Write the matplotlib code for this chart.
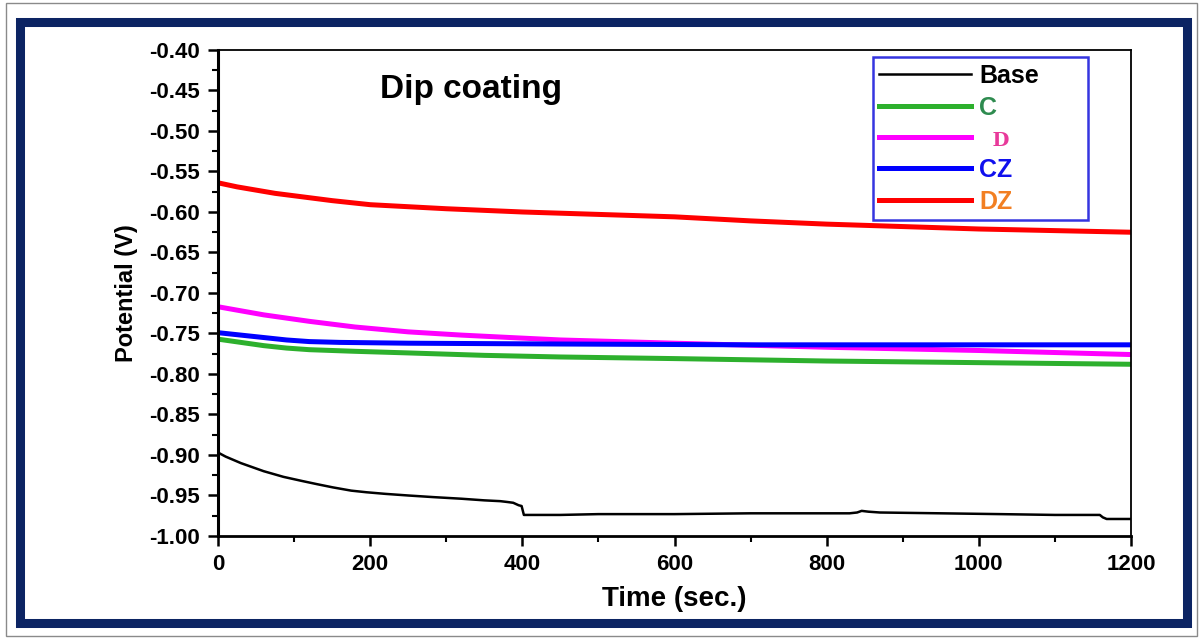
import matplotlib.pyplot as plt
from matplotlib.patches import Rectangle
from matplotlib.ticker import MultipleLocator

plt.rcParams['font.family'] = ['Liberation Sans', 'DejaVu Sans']
plt.rcParams['font.weight'] = 'bold'

# time (sec) and open circuit potential (V)
t_base = [0, 10, 20, 30, 42, 60, 86, 110, 130, 151, 175, 195, 220, 250, 283, 320, 350, 371,
          380, 388, 395, 399, 402, 450, 500, 560, 600, 700, 765, 830, 840, 846, 855, 870,
          950, 1028, 1100, 1159, 1163, 1168, 1200]
base = [-0.897, -0.902, -0.906, -0.910, -0.914, -0.920, -0.927, -0.932, -0.936, -0.940,
        -0.944, -0.946, -0.948, -0.950, -0.952, -0.954, -0.956, -0.957, -0.958, -0.959,
        -0.962, -0.963, -0.974, -0.974, -0.973, -0.973, -0.973, -0.972, -0.972, -0.972,
        -0.971, -0.969, -0.970, -0.971, -0.972, -0.973, -0.974, -0.974, -0.977, -0.979, -0.979]

t_c = [0, 30, 60, 90, 120, 180, 250, 350, 450, 600, 800, 1000, 1200]
c = [-0.757, -0.761, -0.765, -0.768, -0.770, -0.772, -0.774, -0.777, -0.779, -0.781,
     -0.784, -0.786, -0.788]

t_d = [0, 30, 60, 90, 120, 180, 250, 320, 384, 450, 600, 800, 1000, 1200]
d = [-0.717, -0.722, -0.727, -0.731, -0.735, -0.742, -0.748, -0.752, -0.755, -0.758,
     -0.762, -0.767, -0.771, -0.776]

t_cz = [0, 30, 60, 90, 120, 160, 250, 450, 700, 1000, 1200]
cz = [-0.749, -0.752, -0.755, -0.758, -0.760, -0.761, -0.762, -0.763, -0.764, -0.764, -0.764]

t_dz = [0, 25, 50, 75, 100, 150, 200, 300, 400, 500, 600, 700, 800, 900, 1000, 1100, 1200]
dz = [-0.564, -0.569, -0.573, -0.577, -0.580, -0.586, -0.591, -0.596, -0.600, -0.603,
      -0.606, -0.611, -0.615, -0.618, -0.621, -0.623, -0.625]

fig = plt.figure(figsize=(12, 6.39), dpi=100)
ax = fig.add_axes([0.1817, 0.1612, 0.7608, 0.7606])

ax.plot(t_base, base, color='black', lw=1.8, label='Base')
ax.plot(t_c, c, color='#2db02d', lw=3.6, label='C')
ax.plot(t_d, d, color='#ff00ff', lw=3.6, label='D')
ax.plot(t_cz, cz, color='#0000ff', lw=3.6, label='CZ')
ax.plot(t_dz, dz, color='#ff0000', lw=3.6, label='DZ')

ax.set_xlim(0, 1200)
ax.set_ylim(-1.00, -0.40)
ax.xaxis.set_major_locator(MultipleLocator(200))
ax.xaxis.set_minor_locator(MultipleLocator(100))
ax.yaxis.set_major_locator(MultipleLocator(0.05))
ax.yaxis.set_minor_locator(MultipleLocator(0.025))
ax.yaxis.set_major_formatter(plt.FormatStrFormatter('%.2f'))
ax.tick_params(which='major', direction='out', length=7, width=1.8, labelsize=16, pad=6)
ax.tick_params(which='minor', direction='out', length=4, width=1.5)
ax.spines['left'].set_linewidth(2.2)
ax.spines['bottom'].set_linewidth(2.0)
ax.spines['top'].set_linewidth(1.3)
ax.spines['right'].set_linewidth(1.3)

ax.set_xlabel('Time (sec.)', fontsize=20, fontweight='bold', labelpad=8)
ax.set_ylabel('Potential (V)', fontsize=17, fontweight='bold', labelpad=8)

ax.text(0.177, 0.918, 'Dip coating', transform=ax.transAxes, fontsize=24,
        fontweight='bold', va='center', ha='left')

leg = ax.legend(loc='upper left', bbox_to_anchor=(0.717, 0.646, 0.236, 0.339),
                mode='expand', fontsize=18,
                handlelength=3.7, labelspacing=0.33, borderpad=0.25,
                handletextpad=0.3, fancybox=False, framealpha=1,
                borderaxespad=0)
leg.get_frame().set_edgecolor('#3535e0')
leg.get_frame().set_linewidth(1.8)
text_colors = ['black', '#2e8b4f', '#e8399a', '#1010ee', '#f27f22']
for txt, col in zip(leg.get_texts(), text_colors):
    txt.set_color(col)
    txt.set_fontweight('bold')
leg.get_texts()[2].set_family('DejaVu Serif')
leg.get_texts()[2].set_fontsize(14)
leg.get_texts()[2].set_text('  D')

# page frame
fig.patches.append(Rectangle((6 / 1200, 3 / 639), 1191 / 1200, 633 / 639,
                             transform=fig.transFigure, fill=False,
                             edgecolor='#8a8a8a', lw=1.0))
fig.patches.append(Rectangle((20 / 1200, 1 - 623 / 639), 1167 / 1200, 601 / 639,
                             transform=fig.transFigure, fill=False,
                             edgecolor='#0c2463', lw=6.5))

fig.savefig('out.png', dpi=100)
